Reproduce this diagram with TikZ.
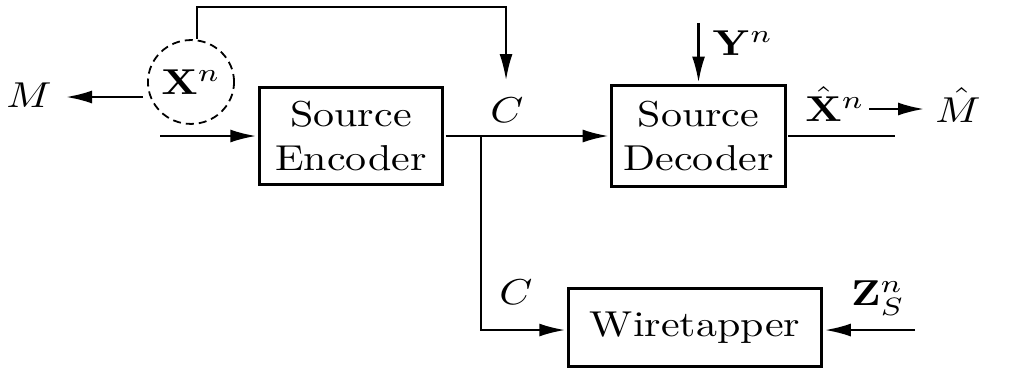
\documentclass[tikz,border=0pt]{standalone}
\usetikzlibrary{arrows.meta,shapes.geometric}

\tikzset{
		block/.style={draw, line width=1.5pt, inner sep=0pt, align=center},
		lbl/.style={inner sep=0pt},
		arr/.style={-{Latex[length=13pt,width=6.5pt]}, line width=1.2pt},
		plain/.style={line width=1.2pt}
	}

\begin{document}
\begin{tikzpicture}[xscale=2.1, yscale=1.8, transform shape, x=0.238095pt, y=-0.277778pt]
				\useasboundingbox (0,0) rectangle (1009,371);
				% blocks
				\node[block, minimum width=43.6pt, minimum height=26.7pt] (enc) at (351,136) {Source\\Encoder};
				\node[block, minimum width=41.3pt, minimum height=28.2pt] (dec) at (698.5,136) {Source\\Decoder};
				\node[block, minimum width=60.3pt, minimum height=21.5pt] (wt) at (695,327.5) {Wiretapper};
				\node[draw, dash pattern=on 4pt off 2.5pt, ellipse, line width=0.9pt, minimum width=20.5pt, minimum height=23.3pt, inner sep=0pt] (xn) at (191,82) {$\mathbf{X}^n$};
				% labels
				\node[lbl] (m) at (29,95) {$M$};
				\node[lbl] (mhat) at (958,105) {$\hat{M}$};
				\node[lbl] (c1) at (507,110) {$C$};
				\node[lbl] (c2) at (516,292) {$C$};
				\node[lbl] (yn) at (743,43) {$\mathbf{Y}^n$};
				\node[lbl] (xhat) at (835,104) {$\hat{\mathbf{X}}^n$};
				\node[lbl] (zn) at (878,298) {$\mathbf{Z}_S^n$};
				% free ends
				\coordinate (in) at (160,136);
				\coordinate (junc) at (481,136);
				\coordinate (top) at (506,7);
				\coordinate (fbend) at (506,80);
				\coordinate (mtail) at (143,97);
				\coordinate (mtip) at (66,97);
				\coordinate (ytop) at (698.5,23);
				\coordinate (dout) at (895,136);
				\coordinate (xtail) at (869,109);
				\coordinate (xtip) at (924,109);
				\coordinate (zin) at (915,330);
				% connectors
				\draw[arr] (in) -- (enc.west);
				\draw[plain] (enc.east) -- (junc);
				\draw[arr] (junc) -- (dec.west);
				\draw[arr] (junc) |- (wt.west |- zin);
				\draw[arr, line width=0.9pt] (xn.83) |- (top) -- (fbend);
				\draw[arr] (mtail) -- (mtip);
				\draw[arr] (ytop) -- (dec.north);
				\draw[plain] (dec.east) -- (dout);
				\draw[arr] (xtail) -- (xtip);
				\draw[arr] (zin) -- (wt.east |- zin);
			\end{tikzpicture}
\end{document}
